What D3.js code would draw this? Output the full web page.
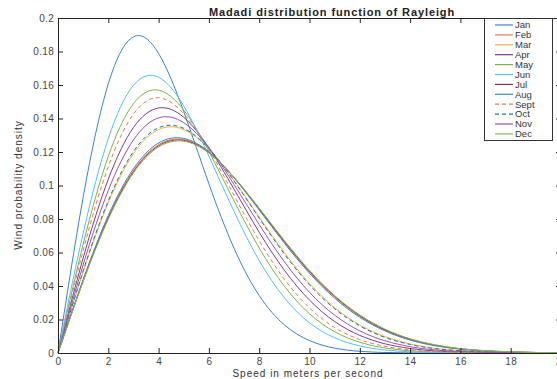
<!DOCTYPE html>
<html>
<head>
<meta charset="utf-8">
<script src="https://cdn.jsdelivr.net/npm/d3@7"></script>
<style>
  body { margin: 0; background: #fff; }
  svg { display: block; font-family: "Liberation Sans", Arial, sans-serif; }
  .tick text { fill: #444; font-size: 10px; letter-spacing: 0.3px; }
  .tick line, .domain { stroke: #222; }
</style>
</head>
<body>
<svg id="chart" width="557" height="379"></svg>
<script>
const speeds = [0, 1, 2, 3, 4, 5, 6, 7, 8, 9, 10, 11, 12, 13, 14, 15, 16, 17, 18, 19, 20];

const months = ['Jan', 'Feb', 'Mar', 'Apr', 'May', 'Jun', 'Jul', 'Aug', 'Sept', 'Oct', 'Nov', 'Dec'];

// probability density per month, one value per speed
const jan  = [0, 0.0930, 0.1607, 0.1888, 0.1788, 0.1441, 0.1010, 0.0625, 0.0343, 0.0168, 0.0074, 0.0029, 0.0010, 0.0003, 0.0001, 0, 0, 0, 0, 0, 0];
const feb  = [0, 0.0433, 0.0811, 0.1089, 0.1244, 0.1274, 0.1198, 0.1047, 0.0859, 0.0663, 0.0483, 0.0334, 0.0219, 0.0136, 0.0081, 0.0045, 0.0024, 0.0012, 0.0006, 0.0003, 0.0001];
const mar  = [0, 0.0484, 0.0898, 0.1190, 0.1334, 0.1334, 0.1219, 0.1030, 0.0811, 0.0599, 0.0415, 0.0271, 0.0167, 0.0098, 0.0054, 0.0028, 0.0014, 0.0007, 0.0003, 0.0001, 0.0001];
const apr  = [0, 0.0567, 0.1038, 0.1346, 0.1463, 0.1407, 0.1225, 0.0978, 0.0721, 0.0494, 0.0316, 0.0188, 0.0105, 0.0055, 0.0027, 0.0012, 0.0005, 0.0002, 0.0001, 0, 0];
const may  = [0, 0.0649, 0.1174, 0.1489, 0.1569, 0.1450, 0.1203, 0.0908, 0.0627, 0.0399, 0.0234, 0.0127, 0.0064, 0.0030, 0.0013, 0.0005, 0.0002, 0.0001, 0, 0, 0];
const jun  = [0, 0.0715, 0.1280, 0.1598, 0.1646, 0.1475, 0.1175, 0.0845, 0.0552, 0.0330, 0.0180, 0.0091, 0.0042, 0.0018, 0.0007, 0.0003, 0.0001, 0, 0, 0, 0];
const jul  = [0, 0.0430, 0.0805, 0.1082, 0.1237, 0.1269, 0.1196, 0.1048, 0.0862, 0.0667, 0.0488, 0.0339, 0.0223, 0.0139, 0.0083, 0.0047, 0.0025, 0.0013, 0.0006, 0.0003, 0.0001];
const aug  = [0, 0.0439, 0.0821, 0.1100, 0.1254, 0.1281, 0.1201, 0.1046, 0.0854, 0.0656, 0.0476, 0.0327, 0.0213, 0.0132, 0.0077, 0.0043, 0.0023, 0.0012, 0.0006, 0.0003, 0.0001];
const sept = [0, 0.0612, 0.1113, 0.1426, 0.1524, 0.1428, 0.1216, 0.0941, 0.0670, 0.0441, 0.0269, 0.0152, 0.0080, 0.0040, 0.0018, 0.0008, 0.0003, 0.0001, 0, 0, 0];
const oct  = [0, 0.0490, 0.0909, 0.1203, 0.1345, 0.1341, 0.1220, 0.1027, 0.0805, 0.0591, 0.0407, 0.0264, 0.0162, 0.0093, 0.0051, 0.0026, 0.0013, 0.0006, 0.0003, 0.0001, 0];
const nov  = [0, 0.0526, 0.0971, 0.1272, 0.1404, 0.1375, 0.1226, 0.1006, 0.0767, 0.0545, 0.0362, 0.0226, 0.0132, 0.0073, 0.0038, 0.0018, 0.0009, 0.0004, 0.0002, 0.0001, 0];
const dec  = [0, 0.0427, 0.0799, 0.1075, 0.1230, 0.1264, 0.1194, 0.1049, 0.0865, 0.0672, 0.0493, 0.0343, 0.0227, 0.0143, 0.0085, 0.0049, 0.0026, 0.0014, 0.0007, 0.0003, 0.0001];

const xTicks = [0, 2, 4, 6, 8, 10, 12, 14, 16, 18, 20];
const yTicks = [0, 0.02, 0.04, 0.06, 0.08, 0.1, 0.12, 0.14, 0.16, 0.18, 0.2];

const monthValues = [jan, feb, mar, apr, may, jun, jul, aug, sept, oct, nov, dec];
const colors = ['#3a82c6', '#e87a55', '#ecb435', '#7d3a92', '#7eb246', '#55c0ee',
                '#a52c40', '#3a82c6', '#e87a55', '#1f72ba', '#9454aa', '#84ba4e'];
const dashes = [null, null, null, null, null, null, null, null, '4,3', '4,3', null, null];

const plotLeft = 58, plotRight = 561, plotTop = 18, plotBottom = 353;

const svg = d3.select('#chart');
const x = d3.scaleLinear().domain([0, 20]).range([plotLeft, plotRight]);
const y = d3.scaleLinear().domain([0, 0.2]).range([plotBottom, plotTop]);

// curves
const line = d3.line()
    .x((d, i) => x(speeds[i]))
    .y(d => Math.min(y(d), plotBottom))
    .curve(d3.curveNatural);

const plot = svg.append('g');
monthValues.forEach((vals, i) => {
    plot.append('path')
        .attr('d', line(vals))
        .attr('fill', 'none')
        .attr('stroke', colors[i])
        .attr('stroke-width', 1)
        .attr('stroke-dasharray', dashes[i]);
});

// axes, ticks pointing inward like matlab
svg.append('g')
    .attr('transform', `translate(0,${plotBottom})`)
    .call(d3.axisBottom(x).tickValues(xTicks).tickSize(-5).tickPadding(5).tickSizeOuter(0));
svg.append('g')
    .attr('transform', `translate(0,${plotTop})`)
    .call(d3.axisTop(x).tickValues(xTicks).tickSize(-5).tickSizeOuter(0).tickFormat(''));
svg.append('g')
    .attr('transform', `translate(${plotLeft},0)`)
    .call(d3.axisLeft(y).tickValues(yTicks).tickSize(-5).tickPadding(4).tickSizeOuter(0)
        .tickFormat(d => String(+d.toFixed(2))));
svg.append('g')
    .attr('transform', `translate(${plotRight},0)`)
    .call(d3.axisRight(y).tickValues(yTicks).tickSize(-5).tickSizeOuter(0).tickFormat(''));

// titles
svg.append('text')
    .attr('x', 332).attr('y', 16)
    .attr('text-anchor', 'middle')
    .style('font-size', '11px').style('font-weight', 'bold').style('fill', '#222')
    .style('letter-spacing', '0.9px')
    .text('Madadi distribution function of Rayleigh');
svg.append('text')
    .attr('x', 308).attr('y', 377)
    .attr('text-anchor', 'middle')
    .style('font-size', '10px').style('letter-spacing', '1px').style('fill', '#333')
    .text('Speed in meters per second');
svg.append('text')
    .attr('transform', 'translate(22,185) rotate(-90)')
    .attr('text-anchor', 'middle')
    .style('font-size', '10px').style('letter-spacing', '1px').style('fill', '#333')
    .text('Wind probability density');

// legend
const lg = svg.append('g');
lg.append('rect')
    .attr('x', 484.5).attr('y', 18.5).attr('width', 68).attr('height', 122)
    .attr('fill', '#fff').attr('stroke', '#333');
months.forEach((m, i) => {
    const ly = 25 + i * 9.9;
    lg.append('line')
        .attr('x1', 495).attr('x2', 513).attr('y1', ly).attr('y2', ly)
        .attr('stroke', colors[i]).attr('stroke-width', 1.2)
        .attr('stroke-dasharray', dashes[i]);
    lg.append('text')
        .attr('x', 515).attr('y', ly + 3.3)
        .style('font-size', '9.5px').style('fill', '#333')
        .text(m);
});
</script>
</body>
</html>
